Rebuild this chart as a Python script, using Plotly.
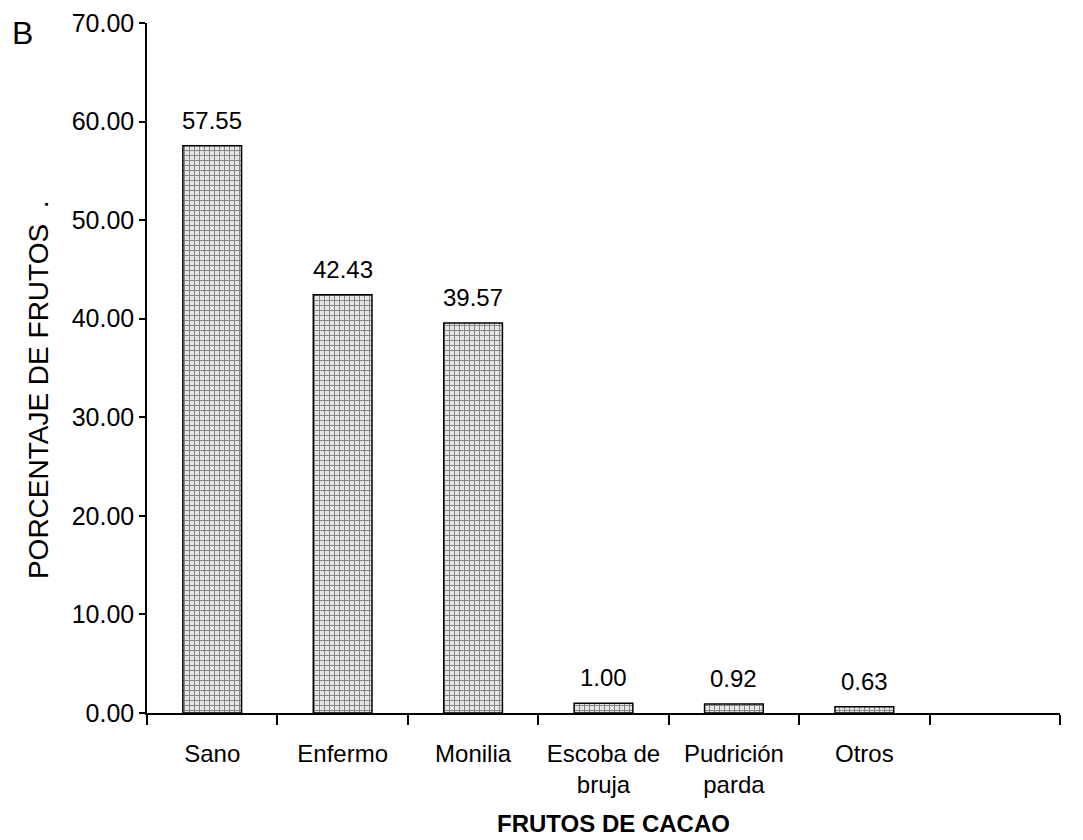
import plotly.graph_objects as go

categories = ["Sano", "Enfermo", "Monilia", "Escoba de<br>bruja", "Pudrición<br>parda", "Otros", " "]
values = [57.55, 42.43, 39.57, 1.00, 0.92, 0.63, None]
y_ticks = [0, 10, 20, 30, 40, 50, 60, 70]

FONT = "Liberation Sans, Arial, sans-serif"

# page body adds an 8px offset; margins compensate
ML, MR, MT, MB = 139, 31, 15, 135
W, H = 1083, 840
PW, PH = W - ML - MR, H - MT - MB

fig = go.Figure()
fig.add_trace(go.Bar(
    x=categories,
    y=values,
    marker=dict(
        color="white",
        line=dict(color="black", width=1.5),
        pattern=dict(shape="+", fgcolor="#222222", bgcolor="#e6e6e6", size=5, solidity=0.35),
    ),
    showlegend=False,
))

for c, v in zip(categories, values):
    if v is None:
        continue
    fig.add_annotation(x=c, y=v, text=f"{v:.2f}", showarrow=False,
                       yanchor="bottom", yshift=10,
                       font=dict(family=FONT, size=24, color="black"))

fig.add_annotation(x=(14 - ML) / PW, y=(MT + PH - 25) / PH, xref="paper", yref="paper",
                   text="B", showarrow=False, xanchor="center", yanchor="middle",
                   font=dict(family=FONT, size=32, color="black"))

fig.add_annotation(x=0.5, y=0, xref="paper", yref="paper", text="<b>FRUTOS DE CACAO</b>",
                   showarrow=False, yanchor="middle", yshift=-110, xshift=10,
                   font=dict(family=FONT, size=24, color="black"))

fig.add_annotation(x=0, y=0.468, xref="paper", yref="paper", text="PORCENTAJE DE FRUTOS  .",
                   showarrow=False, textangle=-90, xanchor="center", yanchor="middle",
                   xshift=-109,
                   font=dict(family=FONT, size=28, color="black"))

fig.update_layout(
    width=W, height=H,
    margin=dict(l=ML, r=MR, t=MT, b=MB),
    paper_bgcolor="white", plot_bgcolor="white",
    bargap=0.55,
    font=dict(family=FONT, size=24, color="black"),
)

fig.update_xaxes(
    type="category", range=[-0.5, 6.5], automargin=False,
    showline=True, linecolor="black", linewidth=1.5,
    ticks="outside", ticklen=10, tickcolor="black", tickwidth=1.5,
    tickson="boundaries", showgrid=False, zeroline=False,
    tickfont=dict(family=FONT, size=24, color="black"),
    ticklabelstandoff=18,
)
fig.update_yaxes(
    range=[0, 70], tickvals=y_ticks, tickformat=".2f", automargin=False,
    showline=True, linecolor="black", linewidth=1.5,
    ticks="outside", ticklen=6, tickcolor="black", tickwidth=1.5,
    showgrid=False, zeroline=False,
    tickfont=dict(family=FONT, size=25, color="black"),
)

fig.write_html("out.html")
